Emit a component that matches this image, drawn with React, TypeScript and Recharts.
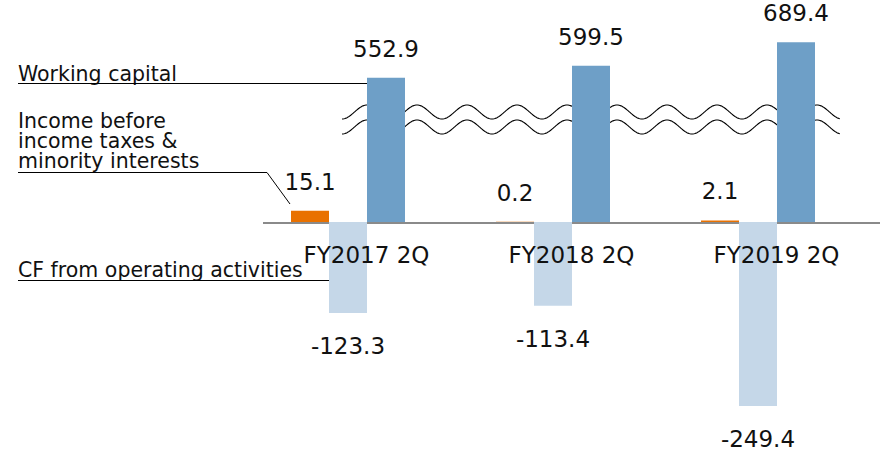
import React from 'react'
import { BarChart, Bar, XAxis, YAxis, LabelList, Customized } from 'recharts'

// 値は図から読み取り（単位：億円想定）
const categories = ['FY2017 2Q', 'FY2018 2Q', 'FY2019 2Q']
const incomeBeforeTaxes = [15.1, 0.2, 2.1]
const cfOperating = [-123.3, -113.4, -249.4]
const workingCapital = [552.9, 599.5, 689.4]

const incomeName = ['Income before', 'income taxes &', 'minority interests']
const cfName = 'CF from operating activities'
const wcName = 'Working capital'

const data = categories.map((name, i) => ({
  name,
  income: incomeBeforeTaxes[i],
  cf: cfOperating[i],
  wc: workingCapital[i],
}))

const W = 880
const H = 450
const X_AXIS_H = 28
const MARGIN = { top: 22, right: 20, bottom: 0, left: 245 }
// 運転資本だけ第2軸（スケール違い）— 0 の位置は両軸で揃える
const LEFT_DOMAIN: [number, number] = [-271, 271]
const RIGHT_DOMAIN: [number, number] = [-767, 767]
const PLOT_H = H - MARGIN.top - MARGIN.bottom - X_AXIS_H
const ZERO_Y = MARGIN.top + (PLOT_H * LEFT_DOMAIN[1]) / (LEFT_DOMAIN[1] - LEFT_DOMAIN[0])

const FONT = '"DejaVu Sans", Verdana, sans-serif'
const INK = '#111'

const fmt = (v: unknown) => Number(v).toFixed(1)

function CategoryTick(props: any) {
  const { x, payload } = props
  return (
    <text x={Number(x) + 19} y={ZERO_Y + 41} textAnchor="middle" fontSize={23} fill={INK} fontFamily={FONT}>
      {payload?.value}
    </text>
  )
}

// 省略線（波線）と左側の系列名注記
function Decor() {
  const top: [number, number][] = []
  for (let x = 342; x <= 840; x += 1) {
    top.push([x, 112 + 7 * Math.cos((2 * Math.PI * (x - 392)) / 50)])
  }
  const bottom = top.map(([x, y]) => [x, y + 15] as [number, number])
  const toPath = (pts: [number, number][]) => pts.map(([x, y], i) => `${i ? 'L' : 'M'}${x},${y}`).join(' ')
  const band = toPath([...top, ...bottom.slice().reverse()]) + ' Z'

  return (
    <g>
      <line x1={263} y1={ZERO_Y + 1} x2={W} y2={ZERO_Y + 1} stroke="#8a8a8a" strokeWidth={2} />
      <path d={band} fill="#fff" stroke="none" />
      <path d={toPath(top)} fill="none" stroke="#000" strokeWidth={1.1} />
      <path d={toPath(bottom)} fill="none" stroke="#000" strokeWidth={1.1} />

      <g fontFamily={FONT} fontSize={20.5} fill={INK}>
        <text x={18} y={81}>{wcName}</text>
        {incomeName.map((t, i) => (
          <text key={t} x={18} y={128 + i * 20}>{t}</text>
        ))}
        <text x={18} y={277}>{cfName}</text>
      </g>
      <g stroke="#000" strokeWidth={1} fill="none">
        <line x1={18} y1={83.5} x2={385} y2={83.5} />
        <polyline points="18,172.5 267,172.5 290,204" />
        <line x1={18} y1={280.5} x2={345} y2={280.5} />
      </g>
    </g>
  )
}

export default function App() {
  return (
    <div style={{ position: 'absolute', left: 0, top: 0 }}>
      <BarChart width={W} height={H} data={data} margin={MARGIN} barGap={0}>
        <YAxis yAxisId="left" hide domain={LEFT_DOMAIN} />
        <YAxis yAxisId="right" orientation="right" hide domain={RIGHT_DOMAIN} />
        <Bar yAxisId="left" dataKey="income" fill="#e97100" barSize={38} isAnimationActive={false}>
          <LabelList dataKey="income" position="top" offset={21} formatter={fmt} fontSize={23} fill={INK} fontFamily={FONT} />
        </Bar>
        <Bar yAxisId="left" dataKey="cf" fill="#c5d7e8" barSize={38} isAnimationActive={false}>
          <LabelList dataKey="cf" position="top" offset={25} formatter={fmt} fontSize={23} fill={INK} fontFamily={FONT} />
        </Bar>
        <Bar yAxisId="right" dataKey="wc" fill="#6e9fc7" barSize={38} isAnimationActive={false}>
          <LabelList dataKey="wc" position="top" offset={21} formatter={fmt} fontSize={23} fill={INK} fontFamily={FONT} />
        </Bar>
        <Customized component={<Decor />} />
        <XAxis dataKey="name" axisLine={false} tickLine={false} height={X_AXIS_H} tick={CategoryTick} interval={0} />
      </BarChart>
    </div>
  )
}
